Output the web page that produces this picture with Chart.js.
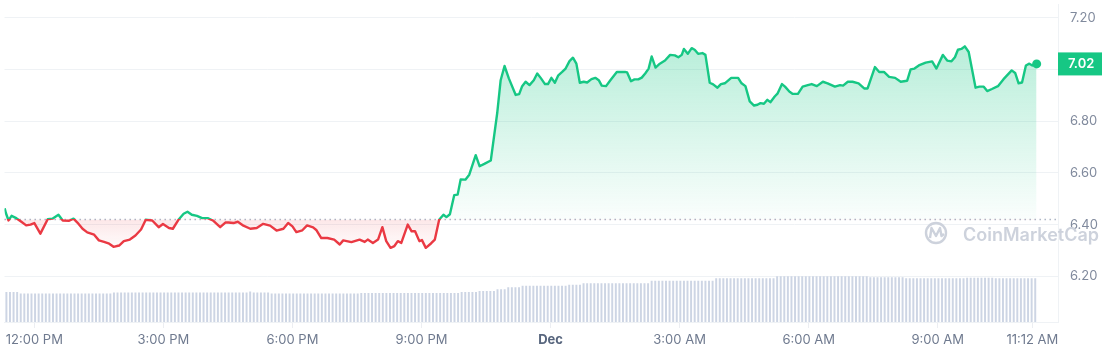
<!DOCTYPE html>
<html>
<head>
<meta charset="utf-8">
<script src="https://cdn.jsdelivr.net/npm/chart.js@4.4.0/dist/chart.umd.min.js"></script>
<style>
  html, body { margin: 0; padding: 0; background: #fff; }
  #wrap { width: 1110px; height: 355px; position: relative; }
</style>
</head>
<body>
<div id="wrap"><canvas id="chart"></canvas></div>
<script>
// hours since 12:00 PM (day before)
const times = [
  -0.69, -0.66, -0.60, -0.53, -0.42, -0.31, -0.19, -0.09, 0.00, 0.14, 0.31, 0.42,
  0.56, 0.66, 0.81, 0.91, 1.00, 1.12, 1.23, 1.39, 1.50, 1.62, 1.74, 1.84,
  1.97, 2.08, 2.22, 2.35, 2.48, 2.59, 2.74, 2.89, 2.99, 3.13, 3.22, 3.36,
  3.47, 3.56, 3.66, 3.78, 3.90, 4.03, 4.15, 4.32, 4.44, 4.51, 4.63, 4.73,
  4.86, 5.02, 5.17, 5.32, 5.48, 5.63, 5.79, 5.90, 6.00, 6.09, 6.23, 6.34,
  6.48, 6.56, 6.67, 6.81, 6.97, 7.10, 7.18, 7.37, 7.56, 7.68, 7.75, 7.87,
  7.99, 8.09, 8.18, 8.28, 8.37, 8.45, 8.53, 8.68, 8.77, 8.85, 8.95, 9.01,
  9.10, 9.22, 9.31, 9.41, 9.51, 9.58, 9.66, 9.76, 9.84, 9.91, 10.02, 10.11,
  10.26, 10.35, 10.46, 10.61, 10.76, 10.84, 10.93, 11.03, 11.19, 11.27, 11.34, 11.42,
  11.51, 11.61, 11.69, 11.77, 11.87, 11.94, 12.02, 12.10, 12.18, 12.27, 12.35, 12.44,
  12.52, 12.60, 12.68, 12.77, 12.85, 12.95, 13.04, 13.12, 13.19, 13.29, 13.39, 13.54,
  13.73, 13.78, 13.87, 13.95, 14.04, 14.12, 14.20, 14.28, 14.35, 14.44, 14.54, 14.66,
  14.78, 14.89, 14.97, 15.05, 15.10, 15.19, 15.28, 15.35, 15.43, 15.53, 15.60, 15.70,
  15.78, 15.88, 15.96, 16.05, 16.20, 16.36, 16.44, 16.53, 16.63, 16.73, 16.81, 16.88,
  16.96, 17.04, 17.11, 17.21, 17.28, 17.38, 17.45, 17.55, 17.63, 17.75, 17.86, 17.98,
  18.07, 18.19, 18.33, 18.44, 18.61, 18.73, 18.80, 18.91, 19.02, 19.16, 19.29, 19.37,
  19.54, 19.64, 19.75, 19.87, 20.01, 20.14, 20.29, 20.37, 20.46, 20.56, 20.72, 20.87,
  20.97, 21.12, 21.22, 21.32, 21.40, 21.47, 21.55, 21.63, 21.72, 21.88, 21.97, 22.07,
  22.15, 22.26, 22.40, 22.53, 22.72, 22.80, 22.88, 22.96, 23.05, 23.13, 23.20, 23.30
];
const prices = [
  6.463, 6.444, 6.416, 6.434, 6.425, 6.412, 6.397, 6.400, 6.406, 6.365, 6.421, 6.423,
  6.438, 6.416, 6.415, 6.423, 6.408, 6.384, 6.370, 6.361, 6.339, 6.333, 6.326, 6.314,
  6.319, 6.336, 6.342, 6.358, 6.381, 6.419, 6.416, 6.390, 6.402, 6.387, 6.384, 6.421,
  6.442, 6.450, 6.438, 6.434, 6.425, 6.425, 6.416, 6.390, 6.408, 6.408, 6.406, 6.411,
  6.396, 6.384, 6.387, 6.403, 6.396, 6.377, 6.384, 6.406, 6.393, 6.371, 6.378, 6.397,
  6.389, 6.378, 6.348, 6.348, 6.342, 6.323, 6.339, 6.332, 6.342, 6.333, 6.342, 6.329,
  6.342, 6.390, 6.336, 6.310, 6.317, 6.336, 6.329, 6.400, 6.374, 6.374, 6.336, 6.340,
  6.310, 6.327, 6.342, 6.419, 6.438, 6.429, 6.440, 6.514, 6.516, 6.575, 6.574, 6.593,
  6.669, 6.626, 6.635, 6.648, 6.832, 6.959, 7.014, 6.966, 6.902, 6.905, 6.936, 6.953,
  6.940, 6.959, 6.985, 6.968, 6.944, 6.944, 6.968, 6.949, 6.978, 6.991, 7.004, 7.033,
  7.046, 7.023, 6.949, 6.953, 6.950, 6.963, 6.968, 6.959, 6.938, 6.936, 6.959, 6.991,
  6.991, 6.989, 6.955, 6.962, 6.962, 6.969, 6.985, 7.004, 7.051, 7.008, 7.023, 7.035,
  7.057, 7.055, 7.048, 7.057, 7.080, 7.061, 7.083, 7.077, 7.061, 7.064, 7.057, 6.949,
  6.943, 6.930, 6.944, 6.947, 6.968, 6.968, 6.947, 6.936, 6.877, 6.861, 6.864, 6.870,
  6.868, 6.883, 6.874, 6.896, 6.908, 6.944, 6.934, 6.915, 6.906, 6.906, 6.934, 6.940,
  6.944, 6.936, 6.953, 6.947, 6.934, 6.940, 6.938, 6.953, 6.953, 6.947, 6.927, 6.927,
  7.010, 6.991, 6.991, 6.972, 6.968, 6.953, 6.957, 7.001, 7.004, 7.016, 7.027, 7.032,
  7.004, 7.057, 7.035, 7.032, 7.048, 7.077, 7.080, 7.090, 7.068, 6.930, 6.934, 6.934,
  6.917, 6.925, 6.936, 6.963, 6.997, 6.987, 6.947, 6.950, 7.016, 7.023, 7.016, 7.022
];
const openPrice = 6.42;

// 5-minute volume bars (millions), first bar at 11:21 AM
const volumes = [
  60, 60, 60, 60, 57, 57, 57, 57, 57, 57, 57, 57,
  57, 57, 57, 57, 57, 57, 57, 57, 57, 57, 57, 57,
  57, 57, 57, 57, 57, 57, 59, 59, 59, 59, 59, 59,
  59, 59, 59, 59, 59, 59, 59, 59, 59, 59, 59, 59,
  59, 59, 59, 59, 59, 59, 59, 59, 59, 59, 59, 59,
  59, 59, 59, 59, 59, 59, 59, 59, 61, 59, 59, 59,
  59, 59, 57, 57, 57, 57, 57, 57, 57, 57, 57, 57,
  57, 57, 57, 57, 57, 57, 57, 57, 57, 57, 57, 57,
  57, 57, 57, 58, 58, 58, 58, 58, 58, 58, 58, 58,
  58, 58, 58, 58, 58, 58, 58, 58, 58, 58, 58, 58,
  58, 58, 58, 58, 58, 58, 58, 60, 60, 60, 60, 60,
  62, 62, 62, 62, 62, 66, 66, 66, 70, 70, 70, 70,
  73, 73, 73, 73, 73, 73, 73, 73, 73, 73, 73, 73,
  73, 75, 75, 75, 75, 78, 78, 78, 78, 78, 78, 78,
  78, 78, 78, 78, 78, 78, 78, 78, 78, 78, 78, 78,
  83, 83, 83, 83, 83, 83, 83, 83, 83, 83, 83, 83,
  83, 83, 83, 83, 83, 83, 88, 88, 88, 88, 88, 88,
  88, 88, 88, 88, 88, 88, 88, 88, 88, 88, 88, 92,
  92, 92, 92, 92, 92, 92, 92, 92, 92, 92, 92, 92,
  92, 92, 92, 92, 92, 92, 92, 92, 92, 92, 92, 92,
  92, 90, 90, 90, 90, 90, 90, 90, 90, 90, 90, 88,
  88, 88, 88, 88, 88, 88, 88, 88, 88, 88, 88, 88,
  88, 88, 88, 88, 89, 89, 89, 89, 89, 89, 89, 89,
  88, 88, 88, 88, 88, 88, 88, 88, 88, 88, 88, 88
];
const volStart = -0.65;

const tickHours = [0, 3, 6, 9, 12, 15, 18, 21, 23.2];
const tickLabels = ["12:00 PM", "3:00 PM", "6:00 PM", "9:00 PM", "Dec", "3:00 AM", "6:00 AM", "9:00 AM", "11:12 AM"];
const priceTicks = [6.2, 6.4, 6.6, 6.8, 7.0, 7.2];

const green = "#16c784";
const red = "#ea3943";

const linePoints = times.map(function (t, i) { return { x: t, y: prices[i] }; });
const volPoints = volumes.map(function (v, i) { return { x: volStart + i / 12, y: v }; });

const extras = {
  id: "extras",
  beforeDatasetsDraw: function (chart) {
    const c = chart.ctx;
    const area = chart.chartArea;
    const y = chart.scales.y.getPixelForValue(openPrice);

    // watermark
    c.save();
    c.strokeStyle = "#cdd2dc";
    c.fillStyle = "#cdd2dc";
    c.lineWidth = 2.4;
    c.beginPath();
    c.arc(936, 233, 10, 0, Math.PI * 2);
    c.stroke();
    c.beginPath();
    c.moveTo(930, 238);
    c.lineTo(931.5, 228);
    c.lineTo(936, 236);
    c.lineTo(940, 228);
    c.lineTo(941.5, 236);
    c.lineTo(944, 234);
    c.lineJoin = "round";
    c.stroke();
    c.font = "600 18px Inter";
    c.textBaseline = "alphabetic";
    c.fillText("CoinMarketCap", 963, 241);
    c.restore();

    // dotted open-price line
    c.save();
    c.strokeStyle = "#a7b0c0";
    c.lineWidth = 1.4;
    c.setLineDash([1.4, 3.6]);
    c.beginPath();
    c.moveTo(area.left, y);
    c.lineTo(area.right, y);
    c.stroke();
    c.restore();
  },
  afterDraw: function (chart) {
    const c = chart.ctx;
    const area = chart.chartArea;
    const last = prices[prices.length - 1];
    const y = chart.scales.y.getPixelForValue(last);
    c.save();
    c.fillStyle = green;
    c.fillRect(area.right, y - 11.5, 44, 23);
    c.fillStyle = "#ffffff";
    c.font = "600 13px Inter";
    c.textBaseline = "middle";
    c.fillText(last.toFixed(2), area.right + 10, y + 0.5);
    c.restore();
  }
};

const chart = new Chart(document.getElementById("chart"), {
  type: "line",
  data: {
    datasets: [
      {
        type: "line",
        data: linePoints,
        borderColor: green,
        borderWidth: 2.4,
        borderJoinStyle: "round",
        tension: 0,
        pointRadius: function (ctx) { return ctx.dataIndex === prices.length - 1 ? 4.5 : 0; },
        pointBackgroundColor: green,
        pointBorderWidth: 0,
        fill: false,
        yAxisID: "y",
        order: 0
      },
      {
        type: "bar",
        data: volPoints,
        backgroundColor: "#cdd5e4",
        barThickness: 1.3,
        yAxisID: "y2",
        order: 1
      }
    ]
  },
  options: {
    responsive: true,
    maintainAspectRatio: false,
    animation: false,
    layout: { padding: 0 },
    plugins: {
      legend: { display: false },
      tooltip: { enabled: false }
    },
    scales: {
      x: {
        type: "linear",
        offset: false,
        min: -0.694,
        max: 23.796,
        afterBuildTicks: function (scale) {
          scale.ticks = tickHours.map(function (v) { return { value: v }; });
        },
        afterFit: function (scale) {
          scale.height = 33;
          scale.paddingLeft = 0;
          scale.paddingRight = 0;
        },
        grid: {
          offset: false,
          drawOnChartArea: false,
          drawTicks: true,
          tickLength: 6,
          color: "#eceef2"
        },
        border: { display: true, color: "#eff2f5" },
        ticks: {
          autoSkip: false,
          maxRotation: 0,
          padding: 4,
          color: function (ctx) { return ctx.tick && ctx.tick.value === 12 ? "#58667e" : "#6f7a8f"; },
          font: function (ctx) {
            return ctx.tick && ctx.tick.value === 12
              ? { family: "Inter", size: 13, weight: "bold" }
              : { family: "Inter", size: 13 };
          },
          callback: function (value, index) { return tickLabels[index]; }
        }
      },
      y: {
        position: "right",
        min: 6.023,
        max: 7.252,
        afterBuildTicks: function (scale) {
          scale.ticks = priceTicks.map(function (v) { return { value: v }; });
        },
        afterFit: function (scale) {
          scale.width = 52;
          scale.paddingTop = 0;
          scale.paddingBottom = 0;
        },
        grid: { color: "#eff2f5", drawTicks: false },
        border: { display: true, color: "#eff2f5" },
        ticks: {
          padding: 12,
          color: "#808a9d",
          font: { family: "Inter", size: 13 },
          callback: function (value) { return value.toFixed(2); }
        }
      },
      y2: {
        display: false,
        min: 0,
        max: 644
      }
    }
  },
  plugins: [extras]
});

// gradients need the laid-out chart area
const area = chart.chartArea;
const yScale = chart.scales.y;
const g = chart.ctx;
const baseY = yScale.getPixelForValue(openPrice);
const f = (baseY - area.top) / (area.bottom - area.top);

const lineGrad = g.createLinearGradient(0, area.top, 0, area.bottom);
lineGrad.addColorStop(0, green);
lineGrad.addColorStop(f, green);
lineGrad.addColorStop(f, red);
lineGrad.addColorStop(1, red);

const upGrad = g.createLinearGradient(0, yScale.getPixelForValue(7.09), 0, baseY);
upGrad.addColorStop(0, "rgba(22, 199, 132, 0.30)");
upGrad.addColorStop(1, "rgba(22, 199, 132, 0.02)");

const downGrad = g.createLinearGradient(0, baseY, 0, yScale.getPixelForValue(6.31));
downGrad.addColorStop(0, "rgba(234, 57, 67, 0.12)");
downGrad.addColorStop(1, "rgba(234, 57, 67, 0.02)");

chart.data.datasets[0].borderColor = lineGrad;
chart.data.datasets[0].fill = { target: { value: openPrice }, above: upGrad, below: downGrad };
chart.update("none");
</script>
</body>
</html>
